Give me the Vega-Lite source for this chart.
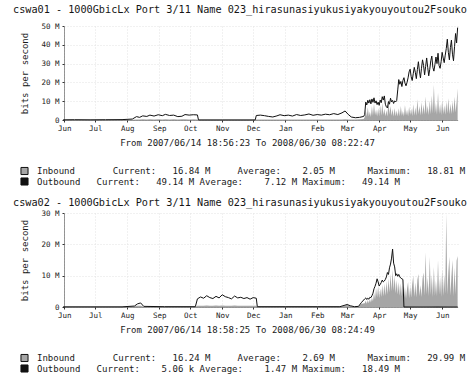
{
  "$schema": "https://vega.github.io/schema/vega-lite/v6.json",
  "padding": {"left": 13, "top": 4, "right": 0, "bottom": 0},
  "background": "white",
  "spacing": 10,
  "config": {
    "font": "DejaVu Sans Mono",
    "view": {"stroke": null},
    "title": {"font": "DejaVu Sans Mono", "fontSize": 10.2, "fontWeight": "normal", "anchor": "start", "frame": "bounds", "dx": -7, "offset": 6, "color": "#151515"},
    "axis": {"labelFont": "DejaVu Sans Mono", "labelFontSize": 7.5, "labelColor": "#1a1a1a", "titleFont": "DejaVu Sans Mono", "titleFontWeight": "normal", "titleFontSize": 9, "titleColor": "#1a1a1a", "tickSize": 2, "tickColor": "#333", "domainColor": "#333", "domainDash": [1, 1], "grid": true, "gridDash": [1, 2], "gridColor": "#e2e2e2", "labelOverlap": false, "labelFlush": false},
    "axisX": {"labelPadding": 2, "titlePadding": 7},
    "axisY": {"labelPadding": 3, "titlePadding": 11},
    "legend": {"direction": "vertical", "symbolType": "square", "symbolSize": 50, "symbolStrokeColor": "#111", "symbolStrokeWidth": 1, "symbolOpacity": 1, "labelFont": "DejaVu Sans Mono", "labelFontSize": 9, "labelColor": "#1a1a1a", "labelLimit": 0, "labelOffset": 8, "clipHeight": 10, "rowPadding": 0.5, "title": null}
  },
  "datasets": {
    "a": [
      {"d": "2007-06-14", "i": 0.05, "o": 0.1},
      {"d": "2007-06-25", "i": 0.05, "o": 0.15},
      {"d": "2007-07-10", "i": 0.05, "o": 0.1},
      {"d": "2007-07-25", "i": 0.05, "o": 0.15},
      {"d": "2007-08-10", "i": 0.05, "o": 0.2},
      {"d": "2007-08-20", "i": 0.1, "o": 0.5},
      {"d": "2007-08-24", "i": 0.3, "o": 1.8},
      {"d": "2007-08-27", "i": 0.3, "o": 1.4},
      {"d": "2007-08-30", "i": 0.4, "o": 2.2},
      {"d": "2007-09-03", "i": 0.3, "o": 1.9},
      {"d": "2007-09-06", "i": 0.4, "o": 2.6},
      {"d": "2007-09-10", "i": 0.3, "o": 2.1},
      {"d": "2007-09-14", "i": 0.4, "o": 2.8},
      {"d": "2007-09-18", "i": 0.3, "o": 2.3},
      {"d": "2007-09-21", "i": 0.4, "o": 3.0},
      {"d": "2007-09-25", "i": 0.3, "o": 2.4},
      {"d": "2007-09-29", "i": 0.4, "o": 2.6},
      {"d": "2007-10-03", "i": 0.3, "o": 1.8},
      {"d": "2007-10-07", "i": 0.4, "o": 2.0},
      {"d": "2007-10-10", "i": 0.4, "o": 2.9},
      {"d": "2007-10-14", "i": 0.3, "o": 2.6},
      {"d": "2007-10-18", "i": 0.4, "o": 2.8},
      {"d": "2007-10-22", "i": 0.3, "o": 2.7},
      {"d": "2007-10-23", "i": 0.0, "o": 0.05},
      {"d": "2007-11-15", "i": 0.0, "o": 0.05},
      {"d": "2007-12-17", "i": 0.0, "o": 0.05},
      {"d": "2007-12-18", "i": 0.3, "o": 2.4},
      {"d": "2007-12-22", "i": 0.3, "o": 2.6},
      {"d": "2007-12-26", "i": 0.3, "o": 2.3},
      {"d": "2007-12-30", "i": 0.2, "o": 1.9},
      {"d": "2008-01-03", "i": 0.3, "o": 1.6},
      {"d": "2008-01-07", "i": 0.3, "o": 2.2},
      {"d": "2008-01-10", "i": 0.3, "o": 2.8},
      {"d": "2008-01-14", "i": 0.3, "o": 2.3},
      {"d": "2008-01-18", "i": 0.3, "o": 2.6},
      {"d": "2008-01-22", "i": 0.3, "o": 2.1},
      {"d": "2008-01-26", "i": 0.3, "o": 2.9},
      {"d": "2008-01-30", "i": 0.3, "o": 2.4},
      {"d": "2008-02-03", "i": 0.3, "o": 2.7},
      {"d": "2008-02-07", "i": 0.3, "o": 3.2},
      {"d": "2008-02-11", "i": 0.3, "o": 2.5},
      {"d": "2008-02-15", "i": 0.3, "o": 2.9},
      {"d": "2008-02-19", "i": 0.3, "o": 2.6},
      {"d": "2008-02-23", "i": 0.3, "o": 3.1},
      {"d": "2008-02-27", "i": 0.3, "o": 2.8},
      {"d": "2008-03-02", "i": 0.3, "o": 3.4},
      {"d": "2008-03-06", "i": 0.3, "o": 2.9},
      {"d": "2008-03-10", "i": 0.3, "o": 3.8},
      {"d": "2008-03-13", "i": 0.4, "o": 4.8},
      {"d": "2008-03-16", "i": 0.3, "o": 3.0},
      {"d": "2008-03-19", "i": 0.3, "o": 1.6},
      {"d": "2008-03-23", "i": 0.3, "o": 1.2},
      {"d": "2008-03-27", "i": 0.4, "o": 1.4},
      {"d": "2008-03-31", "i": 0.5, "o": 1.9},
      {"d": "2008-04-01", "i": 1.5, "o": 3.0},
      {"d": "2008-04-02", "i": 5.5, "o": 9.5},
      {"d": "2008-04-03", "i": 1.8, "o": 8.0},
      {"d": "2008-04-04", "i": 6.8, "o": 10.5},
      {"d": "2008-04-05", "i": 2.0, "o": 9.0},
      {"d": "2008-04-06", "i": 4.5, "o": 10.8},
      {"d": "2008-04-07", "i": 1.6, "o": 8.6},
      {"d": "2008-04-08", "i": 7.5, "o": 11.2},
      {"d": "2008-04-09", "i": 2.2, "o": 9.4},
      {"d": "2008-04-10", "i": 8.8, "o": 11.8},
      {"d": "2008-04-11", "i": 2.5, "o": 9.0},
      {"d": "2008-04-12", "i": 5.6, "o": 10.2},
      {"d": "2008-04-13", "i": 1.8, "o": 8.2},
      {"d": "2008-04-14", "i": 6.2, "o": 9.5},
      {"d": "2008-04-15", "i": 2.0, "o": 7.8},
      {"d": "2008-04-16", "i": 7.8, "o": 10.6},
      {"d": "2008-04-17", "i": 2.4, "o": 9.2},
      {"d": "2008-04-18", "i": 9.2, "o": 12.4},
      {"d": "2008-04-19", "i": 2.6, "o": 10.6},
      {"d": "2008-04-20", "i": 6.0, "o": 12.8},
      {"d": "2008-04-21", "i": 2.0, "o": 8.4},
      {"d": "2008-04-22", "i": 5.2, "o": 7.0},
      {"d": "2008-04-23", "i": 1.8, "o": 6.4},
      {"d": "2008-04-24", "i": 11.0, "o": 9.8},
      {"d": "2008-04-25", "i": 2.8, "o": 8.4},
      {"d": "2008-04-26", "i": 7.4, "o": 11.6},
      {"d": "2008-04-27", "i": 2.2, "o": 9.6},
      {"d": "2008-04-28", "i": 5.8, "o": 10.4},
      {"d": "2008-04-29", "i": 1.9, "o": 8.8},
      {"d": "2008-04-30", "i": 6.4, "o": 10.2},
      {"d": "2008-05-01", "i": 2.0, "o": 9.6},
      {"d": "2008-05-02", "i": 5.0, "o": 10.4},
      {"d": "2008-05-03", "i": 1.8, "o": 16.0},
      {"d": "2008-05-04", "i": 6.2, "o": 21.5},
      {"d": "2008-05-05", "i": 2.0, "o": 19.0},
      {"d": "2008-05-06", "i": 7.5, "o": 20.5},
      {"d": "2008-05-07", "i": 2.2, "o": 17.8},
      {"d": "2008-05-08", "i": 4.8, "o": 21.0},
      {"d": "2008-05-09", "i": 1.9, "o": 22.5},
      {"d": "2008-05-10", "i": 8.0, "o": 19.6},
      {"d": "2008-05-11", "i": 2.4, "o": 18.2},
      {"d": "2008-05-12", "i": 5.4, "o": 20.0},
      {"d": "2008-05-13", "i": 2.0, "o": 22.4},
      {"d": "2008-05-14", "i": 7.0, "o": 25.6},
      {"d": "2008-05-15", "i": 2.6, "o": 27.0},
      {"d": "2008-05-16", "i": 6.0, "o": 23.0},
      {"d": "2008-05-17", "i": 2.1, "o": 21.0},
      {"d": "2008-05-18", "i": 8.4, "o": 24.6},
      {"d": "2008-05-19", "i": 2.4, "o": 28.0},
      {"d": "2008-05-20", "i": 6.6, "o": 25.4},
      {"d": "2008-05-21", "i": 2.2, "o": 22.0},
      {"d": "2008-05-22", "i": 11.0, "o": 26.8},
      {"d": "2008-05-23", "i": 3.0, "o": 31.0},
      {"d": "2008-05-24", "i": 7.4, "o": 26.0},
      {"d": "2008-05-25", "i": 2.4, "o": 22.4},
      {"d": "2008-05-26", "i": 9.6, "o": 27.5},
      {"d": "2008-05-27", "i": 2.6, "o": 32.0},
      {"d": "2008-05-28", "i": 8.2, "o": 29.0},
      {"d": "2008-05-29", "i": 2.8, "o": 24.0},
      {"d": "2008-05-30", "i": 12.5, "o": 28.5},
      {"d": "2008-05-31", "i": 3.2, "o": 33.0},
      {"d": "2008-06-01", "i": 7.6, "o": 28.0},
      {"d": "2008-06-02", "i": 2.6, "o": 23.5},
      {"d": "2008-06-03", "i": 10.4, "o": 27.0},
      {"d": "2008-06-04", "i": 3.0, "o": 31.5},
      {"d": "2008-06-05", "i": 13.0, "o": 34.0},
      {"d": "2008-06-06", "i": 3.4, "o": 28.0},
      {"d": "2008-06-07", "i": 18.81, "o": 26.0},
      {"d": "2008-06-08", "i": 3.6, "o": 29.5},
      {"d": "2008-06-09", "i": 9.0, "o": 33.5},
      {"d": "2008-06-10", "i": 2.8, "o": 30.0},
      {"d": "2008-06-11", "i": 14.5, "o": 35.5},
      {"d": "2008-06-12", "i": 3.2, "o": 29.0},
      {"d": "2008-06-13", "i": 8.4, "o": 27.5},
      {"d": "2008-06-14", "i": 2.6, "o": 31.0},
      {"d": "2008-06-15", "i": 10.6, "o": 36.0},
      {"d": "2008-06-16", "i": 3.0, "o": 33.0},
      {"d": "2008-06-17", "i": 7.8, "o": 30.5},
      {"d": "2008-06-18", "i": 2.8, "o": 34.5},
      {"d": "2008-06-19", "i": 9.8, "o": 38.0},
      {"d": "2008-06-20", "i": 3.4, "o": 43.0},
      {"d": "2008-06-21", "i": 11.6, "o": 36.0},
      {"d": "2008-06-22", "i": 3.0, "o": 32.0},
      {"d": "2008-06-23", "i": 8.6, "o": 38.5},
      {"d": "2008-06-24", "i": 3.2, "o": 42.5},
      {"d": "2008-06-25", "i": 10.0, "o": 35.0},
      {"d": "2008-06-26", "i": 3.6, "o": 31.5},
      {"d": "2008-06-27", "i": 12.4, "o": 39.0},
      {"d": "2008-06-28", "i": 4.0, "o": 46.0},
      {"d": "2008-06-29", "i": 9.5, "o": 41.0},
      {"d": "2008-06-30", "i": 16.84, "o": 49.14}
    ],
    "b": [
      {"d": "2007-06-14", "i": 0.05, "o": 0.05},
      {"d": "2007-07-10", "i": 0.05, "o": 0.05},
      {"d": "2007-08-10", "i": 0.05, "o": 0.05},
      {"d": "2007-08-22", "i": 0.2, "o": 0.3},
      {"d": "2007-08-25", "i": 0.4, "o": 1.0},
      {"d": "2007-08-28", "i": 0.4, "o": 1.3},
      {"d": "2007-08-31", "i": 0.1, "o": 0.2},
      {"d": "2007-09-20", "i": 0.05, "o": 0.1},
      {"d": "2007-10-20", "i": 0.05, "o": 0.1},
      {"d": "2007-10-22", "i": 0.4, "o": 2.6},
      {"d": "2007-10-25", "i": 0.4, "o": 3.2},
      {"d": "2007-10-28", "i": 0.4, "o": 2.8},
      {"d": "2007-10-31", "i": 0.5, "o": 3.6},
      {"d": "2007-11-03", "i": 0.4, "o": 3.0},
      {"d": "2007-11-06", "i": 0.4, "o": 2.7},
      {"d": "2007-11-09", "i": 0.5, "o": 3.4},
      {"d": "2007-11-12", "i": 0.4, "o": 2.9},
      {"d": "2007-11-15", "i": 0.5, "o": 3.9},
      {"d": "2007-11-18", "i": 0.4, "o": 3.3},
      {"d": "2007-11-21", "i": 0.4, "o": 3.0},
      {"d": "2007-11-24", "i": 0.4, "o": 2.6},
      {"d": "2007-11-27", "i": 0.5, "o": 3.5},
      {"d": "2007-11-30", "i": 0.4, "o": 2.9},
      {"d": "2007-12-03", "i": 0.4, "o": 3.1},
      {"d": "2007-12-06", "i": 0.4, "o": 2.7},
      {"d": "2007-12-09", "i": 0.4, "o": 3.0},
      {"d": "2007-12-12", "i": 0.4, "o": 2.5},
      {"d": "2007-12-15", "i": 0.4, "o": 3.0},
      {"d": "2007-12-18", "i": 0.4, "o": 2.8},
      {"d": "2007-12-19", "i": 0.05, "o": 0.1},
      {"d": "2008-01-15", "i": 0.05, "o": 0.1},
      {"d": "2008-02-15", "i": 0.05, "o": 0.1},
      {"d": "2008-03-08", "i": 0.05, "o": 0.1},
      {"d": "2008-03-12", "i": 0.4, "o": 0.5},
      {"d": "2008-03-15", "i": 0.6, "o": 0.8},
      {"d": "2008-03-18", "i": 0.3, "o": 0.4},
      {"d": "2008-03-22", "i": 0.05, "o": 0.1},
      {"d": "2008-03-26", "i": 0.2, "o": 0.2},
      {"d": "2008-03-29", "i": 1.0, "o": 1.5},
      {"d": "2008-04-01", "i": 1.2, "o": 2.6},
      {"d": "2008-04-02", "i": 2.0, "o": 2.9},
      {"d": "2008-04-03", "i": 1.0, "o": 2.4},
      {"d": "2008-04-04", "i": 2.2, "o": 2.8},
      {"d": "2008-04-05", "i": 1.2, "o": 2.5},
      {"d": "2008-04-06", "i": 2.6, "o": 3.1},
      {"d": "2008-04-07", "i": 1.4, "o": 3.0},
      {"d": "2008-04-08", "i": 3.0, "o": 3.6},
      {"d": "2008-04-09", "i": 1.8, "o": 4.4},
      {"d": "2008-04-10", "i": 4.6, "o": 5.8},
      {"d": "2008-04-11", "i": 2.4, "o": 6.6},
      {"d": "2008-04-12", "i": 6.0, "o": 7.6},
      {"d": "2008-04-13", "i": 3.0, "o": 9.0},
      {"d": "2008-04-14", "i": 6.8, "o": 8.0},
      {"d": "2008-04-15", "i": 2.8, "o": 6.7},
      {"d": "2008-04-16", "i": 5.8, "o": 7.2},
      {"d": "2008-04-17", "i": 3.2, "o": 7.8},
      {"d": "2008-04-18", "i": 7.0, "o": 8.6},
      {"d": "2008-04-19", "i": 3.4, "o": 8.0},
      {"d": "2008-04-20", "i": 7.4, "o": 8.3},
      {"d": "2008-04-21", "i": 3.6, "o": 8.8},
      {"d": "2008-04-22", "i": 8.2, "o": 9.6},
      {"d": "2008-04-23", "i": 4.0, "o": 11.0},
      {"d": "2008-04-24", "i": 9.0, "o": 10.4},
      {"d": "2008-04-25", "i": 4.6, "o": 12.5},
      {"d": "2008-04-26", "i": 10.6, "o": 13.7},
      {"d": "2008-04-27", "i": 5.0, "o": 15.6},
      {"d": "2008-04-28", "i": 12.0, "o": 18.49},
      {"d": "2008-04-29", "i": 5.2, "o": 14.0},
      {"d": "2008-04-30", "i": 10.0, "o": 12.8},
      {"d": "2008-05-01", "i": 4.4, "o": 10.0},
      {"d": "2008-05-02", "i": 8.6, "o": 10.6},
      {"d": "2008-05-03", "i": 4.0, "o": 9.8},
      {"d": "2008-05-04", "i": 8.0, "o": 10.4},
      {"d": "2008-05-05", "i": 3.6, "o": 9.6},
      {"d": "2008-05-06", "i": 7.6, "o": 9.2},
      {"d": "2008-05-07", "i": 3.4, "o": 9.0},
      {"d": "2008-05-08", "i": 7.0, "o": 8.8},
      {"d": "2008-05-09", "i": 2.8, "o": 0.01},
      {"d": "2008-05-10", "i": 6.4, "o": 0.005},
      {"d": "2008-05-11", "i": 2.6, "o": 0.005},
      {"d": "2008-05-12", "i": 5.8, "o": 0.005},
      {"d": "2008-05-13", "i": 8.0, "o": 0.005},
      {"d": "2008-05-14", "i": 2.8, "o": 0.005},
      {"d": "2008-05-15", "i": 6.6, "o": 0.005},
      {"d": "2008-05-16", "i": 3.0, "o": 0.005},
      {"d": "2008-05-17", "i": 7.2, "o": 0.005},
      {"d": "2008-05-18", "i": 10.0, "o": 0.005},
      {"d": "2008-05-19", "i": 3.2, "o": 0.005},
      {"d": "2008-05-20", "i": 7.8, "o": 0.005},
      {"d": "2008-05-21", "i": 3.0, "o": 0.005},
      {"d": "2008-05-22", "i": 8.6, "o": 0.005},
      {"d": "2008-05-23", "i": 10.5, "o": 0.005},
      {"d": "2008-05-24", "i": 3.4, "o": 0.005},
      {"d": "2008-05-25", "i": 7.0, "o": 0.005},
      {"d": "2008-05-26", "i": 3.2, "o": 0.005},
      {"d": "2008-05-27", "i": 9.0, "o": 0.005},
      {"d": "2008-05-28", "i": 11.0, "o": 0.005},
      {"d": "2008-05-29", "i": 3.6, "o": 0.005},
      {"d": "2008-05-30", "i": 17.5, "o": 0.005},
      {"d": "2008-05-31", "i": 4.0, "o": 0.005},
      {"d": "2008-06-01", "i": 9.4, "o": 0.005},
      {"d": "2008-06-02", "i": 3.4, "o": 0.005},
      {"d": "2008-06-03", "i": 16.0, "o": 0.005},
      {"d": "2008-06-04", "i": 3.8, "o": 0.005},
      {"d": "2008-06-05", "i": 10.2, "o": 0.005},
      {"d": "2008-06-06", "i": 3.2, "o": 0.005},
      {"d": "2008-06-07", "i": 12.8, "o": 0.005},
      {"d": "2008-06-08", "i": 3.6, "o": 0.005},
      {"d": "2008-06-09", "i": 8.4, "o": 0.005},
      {"d": "2008-06-10", "i": 3.4, "o": 0.005},
      {"d": "2008-06-11", "i": 15.0, "o": 0.005},
      {"d": "2008-06-12", "i": 4.0, "o": 0.005},
      {"d": "2008-06-13", "i": 9.6, "o": 0.005},
      {"d": "2008-06-14", "i": 3.2, "o": 0.005},
      {"d": "2008-06-15", "i": 12.0, "o": 0.005},
      {"d": "2008-06-16", "i": 3.6, "o": 0.005},
      {"d": "2008-06-17", "i": 10.4, "o": 0.005},
      {"d": "2008-06-18", "i": 4.2, "o": 0.005},
      {"d": "2008-06-19", "i": 29.99, "o": 0.005},
      {"d": "2008-06-20", "i": 3.8, "o": 0.005},
      {"d": "2008-06-21", "i": 11.2, "o": 0.005},
      {"d": "2008-06-22", "i": 16.0, "o": 0.005},
      {"d": "2008-06-23", "i": 3.6, "o": 0.005},
      {"d": "2008-06-24", "i": 9.8, "o": 0.005},
      {"d": "2008-06-25", "i": 15.0, "o": 0.005},
      {"d": "2008-06-26", "i": 3.4, "o": 0.005},
      {"d": "2008-06-27", "i": 12.6, "o": 0.005},
      {"d": "2008-06-28", "i": 4.0, "o": 0.005},
      {"d": "2008-06-29", "i": 14.8, "o": 0.005},
      {"d": "2008-06-30", "i": 16.24, "o": 0.005}
    ]
  },
  "resolve": {"scale": {"color": "independent", "y": "independent", "x": "independent"}, "legend": {"color": "independent"}},
  "vconcat": [
    {
      "title": {"text": "cswa01 - 1000GbicLx Port 3/11 Name 023_hirasunasiyukusiyakyouyoutou2Fsouko", "offset": 7},
      "width": 394,
      "height": 94,
      "data": {"name": "a"},
      "encoding": {
        "x": {
          "field": "d", "type": "temporal",
          "scale": {"domain": [{"year": 2007, "month": 6, "date": 14, "hours": 18, "minutes": 56, "seconds": 23}, {"year": 2008, "month": 6, "date": 30, "hours": 8, "minutes": 22, "seconds": 47}]},
          "axis": {
            "title": "From 2007/06/14 18:56:23 To 2008/06/30 08:22:47",
            "titleX": 183,
            "format": "%b",
            "values": [
              {"year": 2007, "month": 6, "date": 15}, {"year": 2007, "month": 7, "date": 15}, {"year": 2007, "month": 8, "date": 15},
              {"year": 2007, "month": 9, "date": 15}, {"year": 2007, "month": 10, "date": 15}, {"year": 2007, "month": 11, "date": 15},
              {"year": 2007, "month": 12, "date": 15}, {"year": 2008, "month": 1, "date": 15}, {"year": 2008, "month": 2, "date": 15},
              {"year": 2008, "month": 3, "date": 15}, {"year": 2008, "month": 4, "date": 15}, {"year": 2008, "month": 5, "date": 15},
              {"year": 2008, "month": 6, "date": 15}
            ]
          }
        }
      },
      "layer": [
        {
          "mark": {"type": "area", "opacity": 1},
          "encoding": {
            "y": {"field": "i", "type": "quantitative", "scale": {"domain": [0, 50], "nice": false},
                  "axis": {"title": "bits per second", "values": [0, 10, 20, 30, 40, 50], "labelExpr": "datum.value == 0 ? '0' : datum.value + ' M'"}},
            "color": {"datum": "Inbound", "type": "nominal",
                      "scale": {"domain": ["Inbound", "Outbound"], "range": ["#a6a6a6", "#111111"]},
                      "legend": {"orient": "none", "legendX": -44, "legendY": 140,
                                 "labelExpr": "replace(datum.label == 'Inbound' ? 'Inbound       Current:   16.84 M     Average:    2.05 M      Maximum:   18.81 M' : 'Outbound   Current:   49.14 M Average:    7.12 M Maximum:   49.14 M', regexp(' ', 'g'), '\u00a0')"}}
          }
        },
        {
          "mark": {"type": "line", "color": "#111111", "strokeWidth": 1},
          "encoding": {"y": {"field": "o", "type": "quantitative",
                  "axis": {"title": "bits per second", "values": [0, 10, 20, 30, 40, 50], "labelExpr": "datum.value == 0 ? '0' : datum.value + ' M'"}}}
        }
      ]
    },
    {
      "title": {"text": "cswa02 - 1000GbicLx Port 3/11 Name 023_hirasunasiyukusiyakyouyoutou2Fsouko", "offset": 1},
      "width": 394,
      "height": 94,
      "data": {"name": "b"},
      "encoding": {
        "x": {
          "field": "d", "type": "temporal",
          "scale": {"domain": [{"year": 2007, "month": 6, "date": 14, "hours": 18, "minutes": 58, "seconds": 25}, {"year": 2008, "month": 6, "date": 30, "hours": 8, "minutes": 24, "seconds": 49}]},
          "axis": {
            "title": "From 2007/06/14 18:58:25 To 2008/06/30 08:24:49",
            "titleX": 183,
            "format": "%b",
            "values": [
              {"year": 2007, "month": 6, "date": 15}, {"year": 2007, "month": 7, "date": 15}, {"year": 2007, "month": 8, "date": 15},
              {"year": 2007, "month": 9, "date": 15}, {"year": 2007, "month": 10, "date": 15}, {"year": 2007, "month": 11, "date": 15},
              {"year": 2007, "month": 12, "date": 15}, {"year": 2008, "month": 1, "date": 15}, {"year": 2008, "month": 2, "date": 15},
              {"year": 2008, "month": 3, "date": 15}, {"year": 2008, "month": 4, "date": 15}, {"year": 2008, "month": 5, "date": 15},
              {"year": 2008, "month": 6, "date": 15}
            ]
          }
        }
      },
      "layer": [
        {
          "mark": {"type": "area", "opacity": 1},
          "encoding": {
            "y": {"field": "i", "type": "quantitative", "scale": {"domain": [0, 30], "nice": false},
                  "axis": {"title": "bits per second", "values": [0, 10, 20, 30], "labelExpr": "datum.value == 0 ? '0' : datum.value + ' M'"}},
            "color": {"datum": "Inbound", "type": "nominal",
                      "scale": {"domain": ["Inbound", "Outbound"], "range": ["#a6a6a6", "#111111"]},
                      "legend": {"orient": "none", "legendX": -44, "legendY": 140,
                                 "labelExpr": "replace(datum.label == 'Inbound' ? 'Inbound       Current:   16.24 M     Average:    2.69 M      Maximum:   29.99 M' : 'Outbound   Current:    5.06 k Average:    1.47 M Maximum:   18.49 M', regexp(' ', 'g'), '\u00a0')"}}
          }
        },
        {
          "mark": {"type": "line", "color": "#111111", "strokeWidth": 1},
          "encoding": {"y": {"field": "o", "type": "quantitative",
                  "axis": {"title": "bits per second", "values": [0, 10, 20, 30], "labelExpr": "datum.value == 0 ? '0' : datum.value + ' M'"}}}
        }
      ]
    }
  ]
}
